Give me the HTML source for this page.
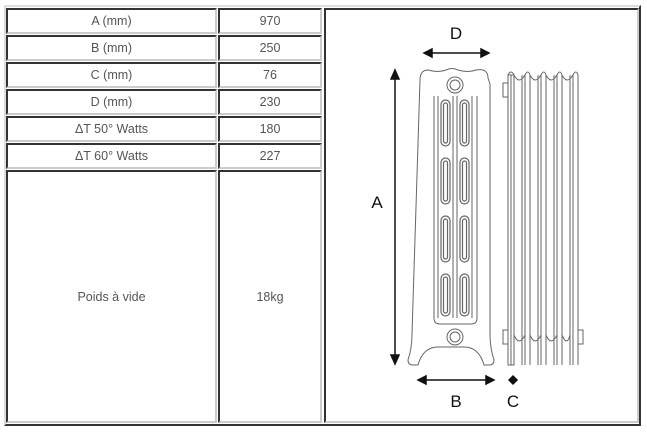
<!DOCTYPE html>
<html><head><meta charset="utf-8"><style>
body{margin:0;width:647px;height:438px;background:#fff;position:relative;font-family:"Liberation Sans",sans-serif;overflow:hidden}
.b{position:absolute;box-sizing:border-box}
.o{left:4px;top:5px;width:637px;height:421px;border-top:2px solid #ddd;border-left:2px solid #ddd;border-right:2px solid #333;border-bottom:2px solid #333}
.c{border-top:2px solid #333;border-left:2px solid #333;border-right:2px solid #ccc;border-bottom:2px solid #ccc;display:flex;align-items:center;justify-content:center;font-size:12.5px;color:#555}
</style></head><body>
<div class="b o"></div>
<div class="b c" style="left:6px;top:8px;width:211px;height:26px">A (mm)</div>
<div class="b c" style="left:218px;top:8px;width:104px;height:26px">970</div>
<div class="b c" style="left:6px;top:35px;width:211px;height:26px">B (mm)</div>
<div class="b c" style="left:218px;top:35px;width:104px;height:26px">250</div>
<div class="b c" style="left:6px;top:62px;width:211px;height:26px">C (mm)</div>
<div class="b c" style="left:218px;top:62px;width:104px;height:26px">76</div>
<div class="b c" style="left:6px;top:89px;width:211px;height:26px">D (mm)</div>
<div class="b c" style="left:218px;top:89px;width:104px;height:26px">230</div>
<div class="b c" style="left:6px;top:116px;width:211px;height:26px">ΔT 50° Watts</div>
<div class="b c" style="left:218px;top:116px;width:104px;height:26px">180</div>
<div class="b c" style="left:6px;top:143px;width:211px;height:26px">ΔT 60° Watts</div>
<div class="b c" style="left:218px;top:143px;width:104px;height:26px">227</div>
<div class="b c" style="left:6px;top:170px;width:211px;height:253px">Poids à vide</div>
<div class="b c" style="left:218px;top:170px;width:104px;height:253px">18kg</div>
<div class="b c" style="left:324px;top:8px;width:315px;height:415px"></div>
<svg class="b" style="left:0;top:0" width="647" height="438" viewBox="0 0 647 438">
<g fill="#111" font-family="Liberation Sans,sans-serif" font-size="17" text-anchor="middle">
<text x="456" y="39">D</text><text x="377" y="208">A</text><text x="456" y="407">B</text><text x="513" y="407">C</text></g>
<g stroke="#111" stroke-width="1.5" fill="#111">
<line x1="430" y1="53" x2="483" y2="53"/><path d="M424 53l8-4v8zM489 53l-8-4v8z"/>
<line x1="395" y1="77" x2="395" y2="357"/><path d="M395 70l-4 9h8zM395 364l-4-9h8z"/>
<line x1="424" y1="380" x2="488" y2="380"/><path d="M418 380l8-4v8zM494 380l-8-4v8z"/>
<path d="M513 376l4 4-4 4-4-4z"/></g>
<g fill="none" stroke="#666" stroke-width="1">
<path d="M420 80q0-10 8-10q10 3 18 0q6-3 12 0q10 3 18 0q12-2 12 8l2 6v250q0 14 4 26q0 5-5 5h-5q-5-18-20-18h-26q-15 0-20 18h-5q-5 0-5-5q4-12 4-26z"/>
<circle cx="455" cy="85" r="8"/><circle cx="455" cy="85" r="5"/>
<circle cx="455" cy="337" r="8"/><circle cx="455" cy="337" r="5"/>
<path d="M434 96v222q0 6 6 6h31q6 0 6-6v-222"/>
<path d="M438 96v222M472 96v222M453 96v222M457 96v222"/>
<g stroke-width="1.2">
<rect x="441" y="100" width="9" height="46" rx="4.5"/><rect x="460" y="100" width="9" height="46" rx="4.5"/>
<rect x="441" y="158" width="9" height="46" rx="4.5"/><rect x="460" y="158" width="9" height="46" rx="4.5"/>
<rect x="441" y="216" width="9" height="46" rx="4.5"/><rect x="460" y="216" width="9" height="46" rx="4.5"/>
<rect x="441" y="274" width="9" height="42" rx="4.5"/><rect x="460" y="274" width="9" height="42" rx="4.5"/>
<rect x="443.5" y="103" width="4" height="40" rx="2"/><rect x="462.5" y="103" width="4" height="40" rx="2"/>
<rect x="443.5" y="161" width="4" height="40" rx="2"/><rect x="462.5" y="161" width="4" height="40" rx="2"/>
<rect x="443.5" y="219" width="4" height="40" rx="2"/><rect x="462.5" y="219" width="4" height="40" rx="2"/>
<rect x="443.5" y="277" width="4" height="36" rx="2"/><rect x="462.5" y="277" width="4" height="36" rx="2"/>
</g>
<path d="M508 75v290h6v-290zM511 75v290"/>
<path d="M525 75v290M530 75v290M541 75v290M546 75v290M557 75v290M562 75v290M573 75v290M578 75v290M570 75v290M554 75v290M538 75v290M522 75v290"/>
<path d="M508 75q3-6 6 0q5 10 11 0q3-6 5 0q5 10 11 0q3-6 5 0q5 10 11 0q3-6 5 0q5 10 11 0q3-6 5 0v15"/>
<path d="M503 83h5v14h-5zM503 330h5v14h-5zM578 330h5v14h-5"/>
<path d="M514 335q5 12 11 0M530 335q5 12 11 0M546 335q5 12 11 0M562 335q5 12 8 0"/>
</g></svg>
</body></html>
